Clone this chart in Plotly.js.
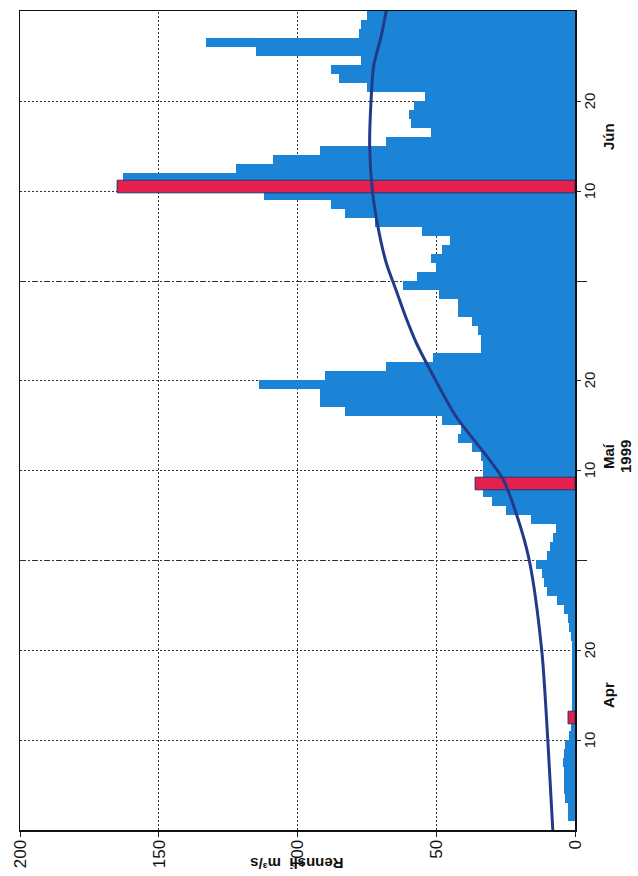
<!DOCTYPE html>
<html><head><meta charset="utf-8">
<script src="https://cdn.plot.ly/plotly-3.0.1.min.js"></script>
<style>
html,body{margin:0;padding:0;width:638px;height:876px;overflow:hidden;background:#fff}
#wrap{position:absolute;left:0;top:0;width:876px;height:638px;transform-origin:0 0;transform:translate(0px,876px) rotate(-90deg);}
#chart{width:876px;height:638px}
</style></head><body>
<div id="wrap"><div id="chart"></div></div>
<script>
// Daily flow (Rennsli, m3/s), 1 Apr 1999 .. 29 Jun 1999
const startDay = '1999-04-01';
const flowApr = [2.7,2.7,3.5,3.8,4,4,4.5,4,3.5,2,1.5,2.5,1,1,1,1,1,1,1.2,1.2,1.5,2,2.5,4,6.5,10,11,12,14,10];
const flowMay = [9,8,7,16,25,30,33,36,33,33,34,37,42,41,48,83,92,92,114,90,68,51,34,34,35,37,42,42,49,62,57];
const flowJun = [50,52,48,45,55,72,83,88,112,165,163,122,109,92,68,52,59,60,58,54,75,85,88,77,115,133,78,77,75];

// Highlighted days (red)
const redDays = ['1999-04-12','1999-05-08','1999-06-10'];
const redVals = [2.5, 36, 165];

// Smooth reference curve
const curveDates = ['1999-03-31','1999-04-10','1999-04-20','1999-04-30','1999-05-05','1999-05-09','1999-05-12','1999-05-16','1999-05-21','1999-05-24','1999-05-27','1999-05-30','1999-06-02','1999-06-06','1999-06-10','1999-06-15','1999-06-20','1999-06-24','1999-06-27','1999-06-30'];
const curveVals = [8,9.8,12,16.5,21,26,33,43,52,57,61,64.5,68,71,73,74,73.5,72.5,70,68];

// Axis ticks
const dateTicks = ['1999-04-10','1999-04-20','1999-05-10','1999-05-20','1999-06-10','1999-06-20'];
const dateTickText = ['10','20','10','20','10','20'];
const monthEnds = ['1999-04-30','1999-05-31'];
const valueTicks = [0,50,100,150,200];
const monthLabels = ['Apr','Maí','Jún'];
const monthLabelDates = ['1999-04-15','1999-05-11 12:00','1999-06-16'];
const yearLabel = '1999';

const flow = flowApr.concat(flowMay, flowJun);
const DAY = 86400000;
const t0 = Date.parse(startDay + 'T12:00:00Z');
function fmt(ms){const d=new Date(ms);const p=n=>String(n).padStart(2,'0');return d.getUTCFullYear()+'-'+p(d.getUTCMonth()+1)+'-'+p(d.getUTCDate())+' '+p(d.getUTCHours())+':00';}
const flowDates = flow.map((_,i)=>fmt(t0+i*DAY));
const redX = redDays.map(d=>d+' 12:00');

const BLUE='#1b84d6', RED='#e5204c', NAVY='#233a8a';
const FONT='Liberation Sans, Arial, sans-serif';

const traces = [
 {type:'bar', x:flowDates, y:flow, width:flow.map(()=>DAY), marker:{color:BLUE, line:{width:0}}},
 {type:'bar', x:redX, y:redVals, width:redVals.map(()=>1.4*DAY), marker:{color:RED, line:{color:'#2a3470', width:1}}},
 {type:'scatter', mode:'lines', x:curveDates, y:curveVals, line:{color:NAVY, width:3, shape:'spline', smoothing:0.8}}
];

const annotations = monthLabels.map((m,i)=>({x:monthLabelDates[i], y:0, xref:'x', yref:'paper', yanchor:'middle', xanchor:'center', yshift:-33, text:'<b>'+m+'</b>', showarrow:false, font:{family:FONT, size:15, color:'#111'}}));
annotations.push({x:monthLabelDates[1], y:0, xref:'x', yref:'paper', yanchor:'middle', xanchor:'center', yshift:-50, text:'<b>'+yearLabel+'</b>', showarrow:false, font:{family:FONT, size:15, color:'#111'}});
annotations.push({x:0, y:0.5, xref:'paper', yref:'paper', xanchor:'center', yanchor:'middle', xshift:-33, textangle:-90, text:'<b>Rennsli  m³/s</b>', showarrow:false, font:{family:FONT, size:15, color:'#111'}});

const layout = {
 width:876, height:638,
 margin:{l:46, r:11, t:20, b:63},
 paper_bgcolor:'#fff', plot_bgcolor:'#fff',
 showlegend:false, barmode:'overlay', bargap:0,
 font:{family:FONT, color:'#111', size:15},
 xaxis:{type:'date', range:['1999-03-31','1999-06-30'], tickmode:'array', tickvals:dateTicks, ticktext:dateTickText,
   ticks:'outside', ticklen:4, tickcolor:'#222', tickwidth:1, ticklabelstandoff:-4,
   showgrid:true, gridcolor:'#333', gridwidth:1, griddash:'2px,2px',
   minor:{tickmode:'array', tickvals:monthEnds, ticks:'outside', ticklen:10, tickcolor:'#222', showgrid:true, gridcolor:'#333', gridwidth:1, griddash:'6px,2px,2px,2px'},
   showline:true, mirror:true, linecolor:'#111', linewidth:1.5, zeroline:false, tickfont:{family:FONT, size:15}},
 yaxis:{range:[0,200], tickmode:'array', tickvals:valueTicks, ticks:'outside', ticklen:5, tickcolor:'#222',
   showgrid:true, gridcolor:'#333', gridwidth:1, griddash:'2px,2px',
   showline:true, mirror:true, linecolor:'#111', linewidth:1.5, zeroline:false, tickfont:{family:FONT, size:17}},
 annotations:annotations
};
Plotly.newPlot('chart', traces, layout, {staticPlot:true, displayModeBar:false});
</script></body></html>
